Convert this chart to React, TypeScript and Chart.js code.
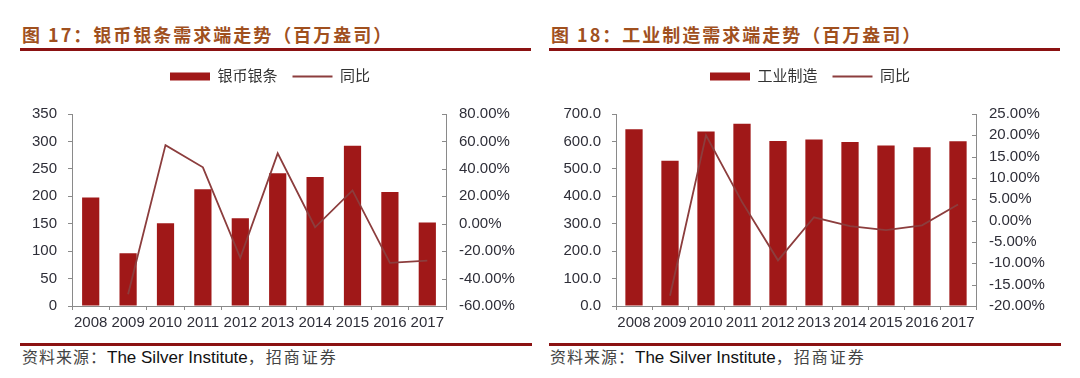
import React, { useEffect, useRef } from 'react';
import { Chart, registerables } from 'chart.js';

Chart.register(...registerables);

// ---- data ----
const years = ['2008', '2009', '2010', '2011', '2012', '2013', '2014', '2015', '2016', '2017'];
const coinBarValues = [198, 96, 151, 213, 160, 242, 235, 292, 208, 152];
const coinYoY = [null, -51.5, 57.3, 41.1, -24.9, 51.3, -2.6, 24.3, -28.6, -26.9];
const industryValues = [644, 530, 636, 664, 602, 607, 598, 585, 579, 601];
const industryYoY = [null, -17.6, 20.0, 4.4, -9.3, 0.8, -1.3, -2.2, -1.1, 3.8];

const leftTitle = '图 17：银币银条需求端走势（百万盎司）';
const rightTitle = '图 18：工业制造需求端走势（百万盎司）';
const coinLabel = '银币银条';
const industryLabel = '工业制造';
const yoyLabel = '同比';

// ---- styles ----
const BAR_COLOR = '#A01818';
const LINE_COLOR = '#8C3D3D';
const AXIS_COLOR = '#8a8a8a';
const TICK_COLOR = '#2e2e38';
const TITLE_COLOR = '#A0501E';
const RULE_COLOR = '#8B1212';
const FONT = '"Liberation Sans", Arial, "Noto Sans CJK SC", sans-serif';
const CJK = '"Noto Sans CJK SC", sans-serif';

Chart.defaults.font.family = FONT;

const legendSpacer = {
  id: 'legendSpacer',
  beforeInit(chart: any) {
    const legend = chart.legend;
    if (!legend) return;
    const orig = legend.fit;
    legend.fit = function () {
      orig.call(this);
      this.height += 20;
    };
  },
};

const inwardTicks = {
  id: 'inwardTicks',
  afterDraw(chart: any) {
    const s = chart.scales.y1;
    if (!s) return;
    const ctx = chart.ctx;
    ctx.save();
    ctx.strokeStyle = AXIS_COLOR;
    ctx.lineWidth = 1;
    s.ticks.forEach((_t: any, i: number) => {
      const y = Math.round(s.getPixelForTick(i)) + 0.5;
      ctx.beginPath();
      ctx.moveTo(s.left, y);
      ctx.lineTo(s.left - 4, y);
      ctx.stroke();
    });
    ctx.restore();
  },
};

type PanelProps = {
  left: number;
  barLabel: string;
  barData: number[];
  yoyData: (number | null)[];
  yMax: number;
  yStep: number;
  yDecimals: number;
  y1Min: number;
  y1Max: number;
  y1Step: number;
  leftW: number;
  rightW: number;
  barPct: number;
};

function ChartPanel(p: PanelProps) {
  const ref = useRef<HTMLCanvasElement>(null);
  useEffect(() => {
    const chart = new Chart(ref.current as HTMLCanvasElement, {
      type: 'bar',
      data: {
        labels: years,
        datasets: [
          {
            type: 'bar',
            label: p.barLabel,
            data: p.barData,
            backgroundColor: BAR_COLOR,
            borderWidth: 0,
            yAxisID: 'y',
            categoryPercentage: 1,
            barPercentage: p.barPct,
            pointStyle: 'rect',
            order: 1,
          } as any,
          {
            type: 'line',
            label: yoyLabel,
            data: p.yoyData,
            borderColor: LINE_COLOR,
            backgroundColor: LINE_COLOR,
            borderWidth: 1.8,
            pointRadius: 0,
            pointStyle: 'line',
            yAxisID: 'y1',
            tension: 0,
            order: 0,
          } as any,
        ],
      },
      options: {
        responsive: false,
        animation: false,
        layout: { padding: 0 },
        plugins: {
          legend: {
            position: 'top',
            labels: {
              usePointStyle: true,
              pointStyleWidth: 40,
              boxHeight: 8,
              padding: 15,
              color: '#333',
              font: { size: 15, family: FONT },
              sort: (a: any, b: any) => a.datasetIndex - b.datasetIndex,
            },
          },
          tooltip: { enabled: false },
        },
        scales: {
          x: {
            grid: { display: true, drawOnChartArea: false, drawTicks: true, tickLength: 4, color: AXIS_COLOR, offset: true },
            border: { display: true, color: AXIS_COLOR },
            ticks: { color: TICK_COLOR, font: { size: 15 }, padding: 4, maxRotation: 0, autoSkip: false },
            afterFit: (s: any) => { s.height = 34; },
          },
          y: {
            position: 'left',
            min: 0,
            max: p.yMax,
            ticks: {
              stepSize: p.yStep,
              color: TICK_COLOR,
              font: { size: 15 },
              padding: 11,
              callback: (v: any) => Number(v).toFixed(p.yDecimals),
            },
            grid: { display: true, drawOnChartArea: false, drawTicks: true, tickLength: 4, color: AXIS_COLOR },
            border: { display: true, color: AXIS_COLOR },
            afterFit: (s: any) => { s.width = p.leftW; },
          },
          y1: {
            position: 'right',
            min: p.y1Min,
            max: p.y1Max,
            ticks: {
              stepSize: p.y1Step,
              color: TICK_COLOR,
              font: { size: 15 },
              padding: 13,
              callback: (v: any) => Number(v).toFixed(2) + '%',
            },
            grid: { display: true, drawOnChartArea: false, drawTicks: false, color: AXIS_COLOR },
            border: { display: true, color: AXIS_COLOR },
            afterFit: (s: any) => { s.width = p.rightW; },
          },
        },
      } as any,
      plugins: [legendSpacer, inwardTicks],
    });
    return () => chart.destroy();
  }, []);
  return (
    <canvas
      ref={ref}
      width={540}
      height={286}
      style={{ position: 'absolute', left: p.left, top: 54, width: 540, height: 286 }}
    />
  );
}

function Title({ left, text }: { left: number; text: string }) {
  return (
    <div
      style={{
        position: 'absolute',
        left,
        top: 22,
        fontFamily: CJK,
        fontWeight: 700,
        fontSize: 18,
        lineHeight: '24px',
        letterSpacing: 2,
        color: TITLE_COLOR,
        whiteSpace: 'nowrap',
      }}
    >
      {text}
    </div>
  );
}

function Rule({ left, top, width }: { left: number; top: number; width: number }) {
  return <div style={{ position: 'absolute', left, top, width, height: 3, background: RULE_COLOR }} />;
}

function Footer({ left }: { left: number }) {
  return (
    <div style={{ position: 'absolute', left, top: 345, lineHeight: '22px', whiteSpace: 'nowrap', color: '#222' }}>
      <span style={{ fontFamily: CJK, fontSize: 16, letterSpacing: 1, color: '#444' }}>资料来源：</span>
      <span style={{ fontFamily: FONT, fontSize: 17, color: '#111' }}>The Silver Institute</span>
      <span style={{ fontFamily: CJK, fontSize: 16, letterSpacing: 2, color: '#444' }}>，招商证券</span>
    </div>
  );
}

export default function App() {
  return (
    <div style={{ position: 'absolute', left: 0, top: 0, width: 1080, height: 378, background: '#fff', overflow: 'hidden' }}>
      <Title left={22} text={leftTitle} />
      <Title left={551} text={rightTitle} />
      <Rule left={20} top={48} width={511} />
      <Rule left={549} top={48} width={511} />
      <ChartPanel
        left={0}
        barLabel={coinLabel}
        barData={coinBarValues}
        yoyData={coinYoY}
        yMax={350}
        yStep={50}
        yDecimals={0}
        y1Min={-60}
        y1Max={80}
        y1Step={20}
        leftW={72}
        rightW={94}
        barPct={0.46}
      />
      <ChartPanel
        left={540}
        barLabel={industryLabel}
        barData={industryValues}
        yoyData={industryYoY}
        yMax={700}
        yStep={100}
        yDecimals={1}
        y1Min={-20}
        y1Max={25}
        y1Step={5}
        leftW={76}
        rightW={104}
        barPct={0.48}
      />
      <Rule left={20} top={343} width={512} />
      <Rule left={549} top={343} width={512} />
      <Footer left={22} />
      <Footer left={550} />
    </div>
  );
}
